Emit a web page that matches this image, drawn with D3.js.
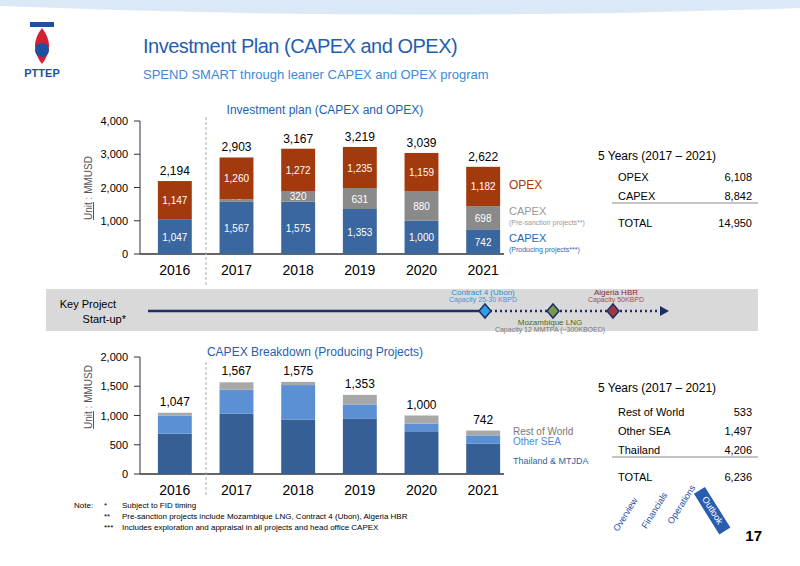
<!DOCTYPE html>
<html><head><meta charset="utf-8">
<script src="https://cdn.jsdelivr.net/npm/d3@7"></script>
<style>body{margin:0;background:#fff}svg{font-family:"Liberation Sans",Arial,sans-serif}</style>
</head><body><svg id="c" width="800" height="566"></svg>
<script>
const years=["2016","2017","2018","2019","2020","2021"];
const capexProducing=[1047,1567,1575,1353,1000,742];
const capexPreSanction=[0,76,320,631,880,698];
const opex=[1147,1260,1272,1235,1159,1182];
const totals=[2194,2903,3167,3219,3039,2622];
const topTicks=[0,1000,2000,3000,4000];
const thailand=[690,1030,930,950,730,520];
const otherSEA=[310,410,590,240,130,140];
const restOfWorld=[47,127,55,163,140,82];
const bottomTicks=[0,500,1000,1500,2000];
const summaryTop=[["OPEX","6,108"],["CAPEX","8,842"],["TOTAL","14,950"]];
const summaryBottom=[["Rest of World","533"],["Other SEA","1,497"],["Thailand","4,206"],["TOTAL","6,236"]];

const svg=d3.select("#c");
const fmt=d3.format(",");
svg.append("path").attr("d","M0,0 L800,0 L800,8 Q400,22 0,6Z").attr("fill","#dbe9f7");
const logo=svg.append("g");
logo.append("path").attr("d","M42,28 Q28,46 42,64 Q56,46 42,28Z").attr("fill","#d22030");
logo.append("circle").attr("cx",42).attr("cy",50).attr("r",7).attr("fill","#1f4fa0");
logo.append("rect").attr("x",30).attr("y",22).attr("width",24).attr("height",5).attr("fill","#1f4fa0");
logo.append("text").attr("x",42).attr("y",77).attr("text-anchor","middle").attr("font-size",11).attr("font-weight","bold").attr("fill","#1f4fa0").text("PTTEP");
svg.append("text").attr("x",143).attr("y",53).attr("font-size",20).attr("fill","#1f5fb0").attr("letter-spacing",-0.5).text("Investment Plan (CAPEX and OPEX)");
svg.append("text").attr("x",143).attr("y",79).attr("font-size",13).attr("fill","#3c8ad8").text("SPEND SMART through leaner CAPEX and OPEX program");

const x=d3.scaleBand().domain(years).range([144,514]).paddingInner(0.45).paddingOuter(0.225);
function axisY(g,y,ticks){
  g.append("line").attr("x1",140).attr("x2",140).attr("y1",y.range()[1]).attr("y2",y.range()[0]).attr("stroke","#333");
  g.append("line").attr("x1",140).attr("x2",504).attr("y1",y(0)).attr("y2",y(0)).attr("stroke","#333").attr("stroke-width",1.5);
  ticks.forEach(t=>{
    g.append("line").attr("x1",134).attr("x2",140).attr("y1",y(t)).attr("y2",y(t)).attr("stroke","#333");
    g.append("text").attr("x",128).attr("y",y(t)+4).attr("text-anchor","end").attr("font-size",11).text(fmt(t));
  });
  years.forEach(yr=>g.append("text").attr("x",x(yr)+x.bandwidth()/2).attr("y",y(0)+21).attr("text-anchor","middle").attr("font-size",14).text(yr));
}
function unitLabel(cy){
  svg.append("text").attr("transform",`translate(92,${cy}) rotate(-90)`).attr("text-anchor","middle").attr("font-size",10).attr("fill","#555")
   .html('<tspan text-decoration="underline">Unit</tspan> : MMUSD');
}
const yT=d3.scaleLinear().domain([0,4000]).range([254,121]);
const gT=svg.append("g");
axisY(gT,yT,topTicks);
unitLabel(188);
svg.append("text").attr("x",325).attr("y",114).attr("text-anchor","middle").attr("font-size",12).attr("fill","#1f5fb0").text("Investment plan (CAPEX and OPEX)");
const topSeries=[[capexProducing,"#3a67a0"],[capexPreSanction,"#8a8a8a"],[opex,"#a33a0e"]];
years.forEach((yr,i)=>{
  let base=0;
  topSeries.forEach(([arr,col])=>{
    const v=arr[i]; if(!v) return;
    gT.append("rect").attr("x",x(yr)).attr("width",x.bandwidth()).attr("y",yT(base+v)).attr("height",yT(base)-yT(base+v)).attr("fill",col);
    gT.append("text").attr("x",x(yr)+x.bandwidth()/2).attr("y",(yT(base)+yT(base+v))/2+(v<150?-1:4)).attr("text-anchor","middle").attr("font-size",10).attr("fill","#fff").text(fmt(v));
    base+=v;
  });
  gT.append("text").attr("x",x(yr)+x.bandwidth()/2).attr("y",yT(totals[i])-6).attr("text-anchor","middle").attr("font-size",12).text(fmt(totals[i]));
});
svg.append("text").attr("x",509).attr("y",189).attr("font-size",12).attr("fill","#a33a0e").text("OPEX");
svg.append("text").attr("x",509).attr("y",215).attr("font-size",11).attr("fill","#999").text("CAPEX");
svg.append("text").attr("x",509).attr("y",225).attr("font-size",7).attr("fill","#999").text("(Pre-sanction projects**)");
svg.append("text").attr("x",509).attr("y",242).attr("font-size",11).attr("fill","#2f64b0").text("CAPEX");
svg.append("text").attr("x",509).attr("y",252).attr("font-size",7).attr("fill","#2f64b0").text("(Producing projects***)");
svg.append("text").attr("x",598).attr("y",160).attr("font-size",12).text("5 Years (2017 – 2021)");
summaryTop.forEach((d,i)=>{
  const yy=181+i*19+(i==2?8:0);
  svg.append("text").attr("x",618).attr("y",yy).attr("font-size",11).text(d[0]);
  svg.append("text").attr("x",752).attr("y",yy).attr("text-anchor","end").attr("font-size",11).text(d[1]);
});
svg.append("line").attr("x1",612).attr("x2",758).attr("y1",203).attr("y2",203).attr("stroke","#888");

svg.append("rect").attr("x",46).attr("y",289).attr("width",712).attr("height",42).attr("fill","#d9d9d9");
svg.append("text").attr("x",116).attr("y",308).attr("text-anchor","end").attr("font-size",11).text("Key Project");
svg.append("text").attr("x",126).attr("y",323).attr("text-anchor","end").attr("font-size",11).text("Start-up*");
svg.append("line").attr("x1",148).attr("x2",485).attr("y1",311).attr("y2",311).attr("stroke","#1c2f6b").attr("stroke-width",2.5);
svg.append("line").attr("x1",485).attr("x2",660).attr("y1",311).attr("y2",311).attr("stroke","#1c2f6b").attr("stroke-width",2.5).attr("stroke-dasharray","2,3");
svg.append("path").attr("d","M660,306 L669,311 L660,316Z").attr("fill","#1c2f6b");
[[485,"#2fa0e0"],[553,"#7a9a4a"],[613,"#a03a3a"]].forEach(([cx,c])=>svg.append("path").attr("d",`M${cx},304 L${cx+6},311 L${cx},318 L${cx-6},311Z`).attr("fill",c).attr("stroke","#1c2f6b").attr("stroke-width",1.5));
svg.append("text").attr("x",483).attr("y",295).attr("text-anchor","middle").attr("font-size",8).attr("fill","#2a8fd0").text("Contract 4 (Ubon)");
svg.append("text").attr("x",483).attr("y",302).attr("text-anchor","middle").attr("font-size",7).attr("fill","#3a9ad8").text("Capacity 25-30 KBPD");
svg.append("text").attr("x",616).attr("y",295).attr("text-anchor","middle").attr("font-size",8).attr("fill","#8b2a2a").text("Algeria HBR");
svg.append("text").attr("x",616).attr("y",302).attr("text-anchor","middle").attr("font-size",7).attr("fill","#a05050").text("Capacity 50KBPD");
svg.append("text").attr("x",550).attr("y",325).attr("text-anchor","middle").attr("font-size",8).attr("fill","#4a6a1a").text("Mozambique LNG");
svg.append("text").attr("x",550).attr("y",332).attr("text-anchor","middle").attr("font-size",7).attr("fill","#777").text("Capacity 12 MMTPA (~300KBOED)");

const yB=d3.scaleLinear().domain([0,2000]).range([474,357]);
const gB=svg.append("g");
axisY(gB,yB,bottomTicks);
unitLabel(397);
svg.append("text").attr("x",315).attr("y",356).attr("text-anchor","middle").attr("font-size",12).attr("fill","#1f5fb0").text("CAPEX Breakdown (Producing Projects)");
const botSeries=[[thailand,"#365f95"],[otherSEA,"#5b90d4"],[restOfWorld,"#a8a8a8"]];
years.forEach((yr,i)=>{
  let base=0;
  botSeries.forEach(([arr,col])=>{
    const v=arr[i];
    gB.append("rect").attr("x",x(yr)).attr("width",x.bandwidth()).attr("y",yB(base+v)).attr("height",yB(base)-yB(base+v)).attr("fill",col);
    base+=v;
  });
  gB.append("text").attr("x",x(yr)+x.bandwidth()/2).attr("y",yB(capexProducing[i])-7).attr("text-anchor","middle").attr("font-size",12).text(fmt(capexProducing[i]));
});
svg.append("text").attr("x",513).attr("y",435).attr("font-size",10).attr("fill","#777").text("Rest of World");
svg.append("text").attr("x",513).attr("y",445).attr("font-size",10).attr("fill","#4a8ad8").text("Other SEA");
svg.append("text").attr("x",513).attr("y",464).attr("font-size",9).attr("fill","#2f5fa8").text("Thailand & MTJDA");
svg.append("line").attr("x1",206).attr("x2",206).attr("y1",117).attr("y2",285).attr("stroke","#aaa").attr("stroke-dasharray","3,2");
svg.append("line").attr("x1",206).attr("x2",206).attr("y1",362).attr("y2",495).attr("stroke","#aaa").attr("stroke-dasharray","3,2");
svg.append("text").attr("x",598).attr("y",392).attr("font-size",12).text("5 Years (2017 – 2021)");
summaryBottom.forEach((d,i)=>{
  const yy=416+i*19+(i==3?8:0);
  svg.append("text").attr("x",618).attr("y",yy).attr("font-size",11).text(d[0]);
  svg.append("text").attr("x",752).attr("y",yy).attr("text-anchor","end").attr("font-size",11).text(d[1]);
});
svg.append("line").attr("x1",612).attr("x2",758).attr("y1",457).attr("y2",457).attr("stroke","#888");

const notes=[["Note:","*","Subject to FID timing"],["","**","Pre-sanction projects include Mozambique LNG, Contract 4 (Ubon), Algeria HBR"],["","***","Includes exploration and appraisal in all projects and head office CAPEX"]];
notes.forEach((n,i)=>{
  const yy=508+i*11;
  svg.append("text").attr("x",74).attr("y",yy).attr("font-size",8).text(n[0]);
  svg.append("text").attr("x",104).attr("y",yy).attr("font-size",8).text(n[1]);
  svg.append("text").attr("x",122).attr("y",yy).attr("font-size",8).text(n[2]);
});
[["Overview",628,516],["Financials",657,512],["Operations",684,506],["Outlook",710,512]].forEach(([t,tx,ty],i)=>{
  const g=svg.append("g").attr("transform",`translate(${tx},${ty}) rotate(${i==3?58:-58})`);
  g.append("rect").attr("x",-24).attr("y",-9).attr("width",48).attr("height",13).attr("fill",i==3?"#2a5cb0":"#fff");
  g.append("text").attr("text-anchor","middle").attr("font-size",9).attr("fill",i==3?"#fff":"#1f4fa0").text(t);
});
svg.append("text").attr("x",762).attr("y",541).attr("text-anchor","end").attr("font-size",15).attr("font-weight","bold").text("17");
</script></body></html>
